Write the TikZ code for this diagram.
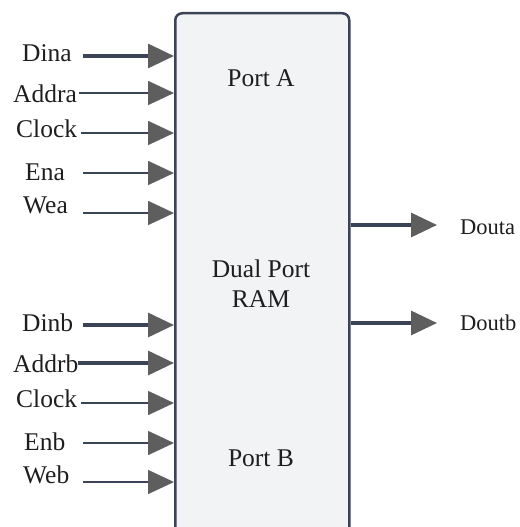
\documentclass[tikz,border=0pt]{standalone}
\usepackage{fontspec}
\setmainfont{Liberation Serif}
\usetikzlibrary{arrows.meta}
\definecolor{boxfill}{HTML}{F2F3F5}
\definecolor{wire}{HTML}{3B4457}
\definecolor{headgray}{HTML}{5E5E5E}
\definecolor{ink}{HTML}{1E1E1E}
\tikzset{
  sig/.style={inner sep=0pt, anchor=base west, text=ink, font=\fontsize{25.5}{30}\selectfont},
  outsig/.style={inner sep=0pt, anchor=base west, text=ink, font=\fontsize{22.5}{26}\selectfont},
  inner/.style={inner sep=0pt, anchor=base, text=ink, font=\fontsize{25.5}{30}\selectfont},
  head/.style={-{Triangle[length=26pt,width=24pt,fill=headgray,color=headgray]}},
  thinwire/.style={head, draw=wire, line width=1.6pt},
  thickwire/.style={head, draw=wire, line width=3.2pt},
  ramblock/.style={draw=wire, fill=boxfill, line width=2.5pt, rounded corners=7pt,
    minimum width=174pt, minimum height=540pt, inner sep=0pt, anchor=north west},
}
\begin{document}
\begin{tikzpicture}[x=1pt,y=-1pt]
\useasboundingbox (0,0) rectangle (519,527);

% memory block (runs on below the lower edge)
\node[ramblock] (ram) at (174,12) {};
\node[inner] (porta) at (261,86) {Port A};
\node[inner] (dual) at (261,277) {Dual Port};
\node[inner] (ramtxt) at (261,307) {RAM};
\node[inner] (portb) at (261,466) {Port B};

% port A inputs
\node[sig] (dina) at (22,61) {Dina};
\node[sig] (addra) at (13,102) {Addra};
\node[sig] (clka) at (16,137) {Clock};
\node[sig] (ena) at (25,180) {Ena};
\node[sig] (wea) at (23,213) {Wea};
\coordinate (sdina) at (83,56);
\coordinate (saddra) at (79,93);
\coordinate (sclka) at (81,133);
\coordinate (sena) at (83,173);
\coordinate (swea) at (83,213);
\draw[thickwire] (sdina) -- (sdina -| ram.west);
\draw[thinwire] (saddra) -- (saddra -| ram.west);
\draw[thinwire] (sclka) -- (sclka -| ram.west);
\draw[thinwire] (sena) -- (sena -| ram.west);
\draw[thinwire] (swea) -- (swea -| ram.west);

% port B inputs
\node[sig] (dinb) at (22,331) {Dinb};
\node[sig] (addrb) at (13,372) {Addrb};
\node[sig] (clkb) at (16,407) {Clock};
\node[sig] (enb) at (24,450) {Enb};
\node[sig] (web) at (23,483) {Web};
\coordinate (sdinb) at (83,325);
\coordinate (saddrb) at (78,363);
\coordinate (sclkb) at (81,403);
\coordinate (senb) at (83,443);
\coordinate (sweb) at (83,482);
\draw[thickwire] (sdinb) -- (sdinb -| ram.west);
\draw[thickwire] (saddrb) -- (saddrb -| ram.west);
\draw[thinwire] (sclkb) -- (sclkb -| ram.west);
\draw[thinwire] (senb) -- (senb -| ram.west);
\draw[thinwire] (sweb) -- (sweb -| ram.west);

% outputs
\node[outsig] (douta) at (460,234) {Douta};
\node[outsig] (doutb) at (460,330) {Doutb};
\coordinate (edouta) at (437,225);
\coordinate (edoutb) at (437,323);
\draw[thickwire] (edouta -| ram.east) -- (edouta);
\draw[thickwire] (edoutb -| ram.east) -- (edoutb);
\end{tikzpicture}
\end{document}
